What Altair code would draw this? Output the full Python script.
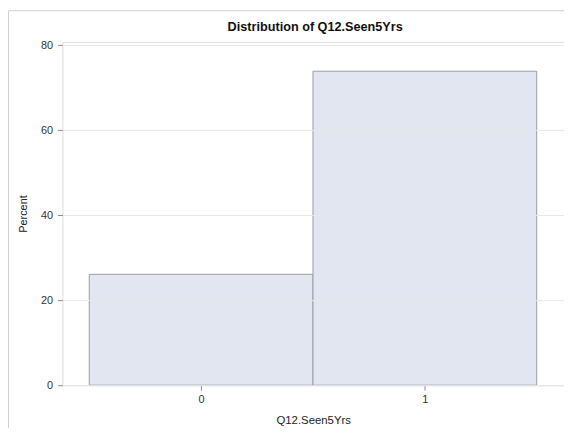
import altair as alt
import pandas as pd

# ---- data ----
categories = [0, 1]
percents = [26.1, 73.9]
bin_starts = [-0.5, 0.5]
bin_ends = [0.5, 1.5]
y_ticks = [0, 20, 40, 60, 80]
x_ticks = [0, 1]

df = pd.DataFrame({"cat": categories, "pct": percents, "x0": bin_starts, "x1": bin_ends})
frame_df = pd.DataFrame({"k": [0]})

W, H = 507, 347
FONT = "Liberation Sans"

xscale = alt.Scale(domain=[-0.62, 1.622], nice=False, zero=False)
yscale = alt.Scale(domain=[0, 80.8], nice=False, zero=False)

bars = alt.Chart(df).mark_rect(
    fill="#e1e6f0", stroke="#999da3", strokeWidth=1
).encode(
    x=alt.X("x0:Q", scale=xscale, axis=alt.Axis(
        values=x_ticks, title="Q12.Seen5Yrs", grid=False, domain=False,
        tickSize=5, tickColor="#8c8c8c", labelPadding=4, titlePadding=10,
        labelFont=FONT, labelFontSize=11, labelColor="#333333",
        titleFont=FONT, titleFontSize=11.5, titleFontWeight="normal", titleColor="#222222",
        format="d")),
    x2="x1:Q",
    y=alt.Y("pct:Q", scale=yscale, axis=alt.Axis(
        values=y_ticks, title="Percent", grid=True, gridColor="#e8e8e8", domain=False,
        tickSize=5, tickColor="#8c8c8c", labelPadding=5, titlePadding=12,
        labelFont=FONT, labelFontSize=11, labelColor="#333333",
        titleFont=FONT, titleFontSize=11, titleFontWeight="normal", titleColor="#222222",
        zindex=1)),
    y2=alt.datum(0),
)

outer_left = alt.Chart(frame_df).mark_rule(color="#d0d0d0", strokeWidth=1).encode(
    x=alt.value(-54.5), y=alt.value(-31.5), y2=alt.value(H + 60)
)
outer_top = alt.Chart(frame_df).mark_rule(color="#d0d0d0", strokeWidth=1).encode(
    x=alt.value(-54.5), x2=alt.value(W + 20), y=alt.value(-31.5)
)

chart = alt.layer(bars, outer_left, outer_top).properties(
    width=W, height=H,
    title=alt.TitleParams("Distribution of Q12.Seen5Yrs", font=FONT, fontSize=12.8,
                          fontWeight="bold", color="#111111", anchor="middle",
                          frame="group", offset=8, dy=31.5, dx=2),
    padding={"left": 55, "top": 32, "right": 0, "bottom": 41},
    autosize=alt.AutoSizeParams(type="none"),
).configure_view(stroke="#c4c8cc", strokeWidth=1).configure(background="white")

chart.save("out.html", embed_options={"renderer": "svg", "actions": False})
